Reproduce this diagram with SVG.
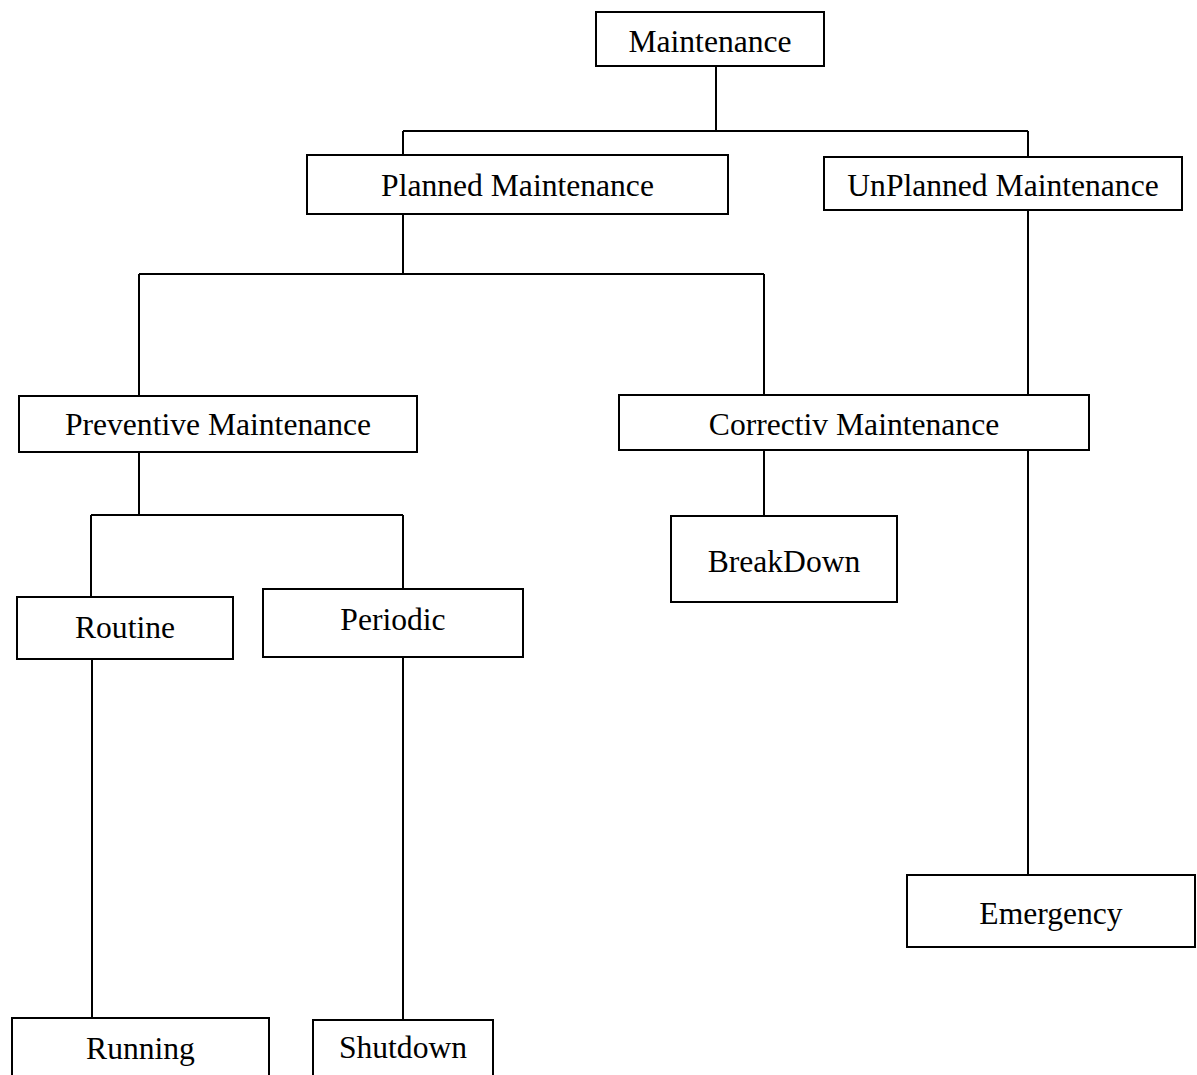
<svg xmlns="http://www.w3.org/2000/svg" width="1197" height="1075" viewBox="0 0 1197 1075">
<style>
.box{fill:#fff;stroke:#000;stroke-width:2}
.lbl{font-family:"Liberation Serif","Times New Roman",serif;font-size:31.6px;fill:#000;text-anchor:middle}
.con{fill:none;stroke:#000;stroke-width:2}
</style>
<rect width="1197" height="1075" fill="#fff"/>
<g id="connectors">
<path class="con" d="M716 66V131M403 131H1028M403 131V155M1028 131V157"/>
<path class="con" d="M403 214V274M139 274H764M139 274V396M764 274V395"/>
<path class="con" d="M1028 210V395M1028 450V875"/>
<path class="con" d="M139 452V515M91 515H403M91 515V597M403 515V589"/>
<path class="con" d="M764 450V516"/>
<path class="con" d="M92 659V1018M403 657V1020"/>
</g>
<g id="maintenance"><rect class="box" x="596" y="12" width="228" height="54"/><text class="lbl" x="710" y="52">Maintenance</text></g>
<g id="planned"><rect class="box" x="307" y="155" width="421" height="59"/><text class="lbl" x="517.5" y="196">Planned Maintenance</text></g>
<g id="unplanned"><rect class="box" x="824" y="157" width="358" height="53"/><text class="lbl" x="1003" y="196">UnPlanned Maintenance</text></g>
<g id="preventive"><rect class="box" x="19" y="396" width="398" height="56"/><text class="lbl" x="218" y="435">Preventive Maintenance</text></g>
<g id="corrective"><rect class="box" x="619" y="395" width="470" height="55"/><text class="lbl" x="854" y="435">Correctiv Maintenance</text></g>
<g id="breakdown"><rect class="box" x="671" y="516" width="226" height="86"/><text class="lbl" x="784" y="572">BreakDown</text></g>
<g id="routine"><rect class="box" x="17" y="597" width="216" height="62"/><text class="lbl" x="125" y="638">Routine</text></g>
<g id="periodic"><rect class="box" x="263" y="589" width="260" height="68"/><text class="lbl" x="393" y="630">Periodic</text></g>
<g id="emergency"><rect class="box" x="907" y="875" width="288" height="72"/><text class="lbl" x="1051" y="924">Emergency</text></g>
<g id="running"><rect class="box" x="12" y="1018" width="257" height="70"/><text class="lbl" x="140.5" y="1059">Running</text></g>
<g id="shutdown"><rect class="box" x="313" y="1020" width="180" height="70"/><text class="lbl" x="403" y="1058">Shutdown</text></g>
</svg>
